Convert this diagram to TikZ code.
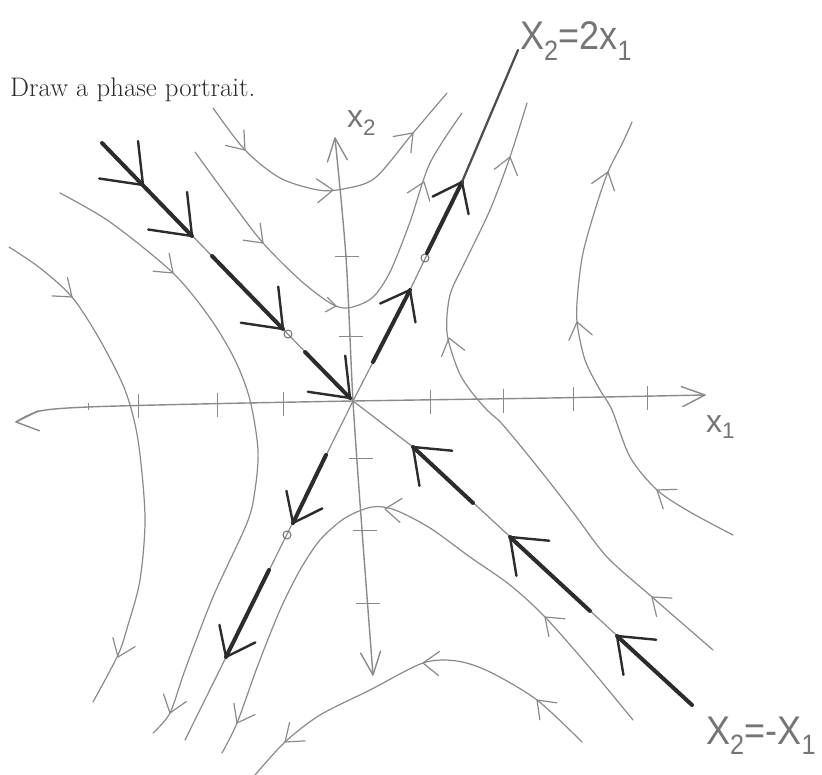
\documentclass[tikz,border=0pt]{standalone}
\usepackage{fontspec}
\usetikzlibrary{calc}
\newfontfamily\handfont{Liberation Sans}
\definecolor{pencil}{HTML}{8A8A8A}
\definecolor{graphite}{HTML}{2C2C2C}
\definecolor{inktext}{HTML}{2A2A2A}

\begin{document}
\begin{tikzpicture}[
    x=1pt, y=-1pt,
    traj/.style={draw=pencil, line width=1.2pt, line cap=round, line join=round},
    axisline/.style={draw=pencil, line width=1.4pt, line cap=round, line join=round},
    tickmark/.style={draw=pencil, line width=1pt},
    eigen/.style={draw=pencil, line width=1.2pt, line cap=round},
    boldseg/.style={draw=graphite, line width=4pt, line cap=round},
    dot/.style={draw=pencil!80!black, line width=1pt},
    hand/.style={text=pencil!85!black, inner sep=0pt, anchor=base west,
                 font=\handfont\fontsize{40}{40}\selectfont},
    vtip/.pic={\draw[traj] (-16,-12) -- (0,0) -- (-16,12);},
    boldtip/.pic={\draw[draw=graphite, line width=2.4pt, line cap=round, line join=round]
                  (-26,-20) -- (0,0) -- (-26,20);},
    axistip/.pic={\draw[axisline] (-23,-10) -- (0,0) -- (-23,10);}
  ]
    \useasboundingbox (0,0) rectangle (822,775);

    % question
    \node[text=inktext, inner sep=0pt, anchor=base west,
          font=\fontsize{26.8}{32}\selectfont] (title) at (10,97) {Draw a phase portrait.};

    % axes
    \coordinate (O) at (353,401);
    \coordinate (xL) at (16,422);
    \coordinate (xR) at (705,395);
    \coordinate (yT) at (335,138);
    \coordinate (yB) at (373,675);
    \draw[axisline] plot[smooth] coordinates {(xL) (40,411) (88,407) (200,404) (O) (550,398) (xR)};
    \draw[axisline] plot[smooth] coordinates {(yT) (346,257) (O) (362,530) (yB)};
    \pic[rotate=183] at (xL) {axistip};
    \pic[rotate=4] at (xR) {axistip};
    \pic[rotate=96] at (yT) {axistip};
    \pic[rotate=-84] at (yB) {axistip};
    \foreach \tx/\ty in {138/404, 217/403, 283/402, 430/400, 503/399, 573/397, 647/396}
      \draw[tickmark] (\tx,\ty-10) -- (\tx,\ty+14);
    \draw[tickmark] (88,403) -- (88,410);
    \foreach \tx/\ty in {346/257, 350/337, 360/458, 364/530, 367/603}
      \draw[tickmark] (\tx-11,\ty) -- (\tx+13,\ty);

    % trajectories
    \draw[traj] plot[smooth] coordinates {(213,108) (245,150) (280,178) (318,190) (343,189) (375,178) (413,133) (447,93)};
    \pic[rotate=-50] at (245,150) {vtip};
    \pic[rotate=3] at (333,190) {vtip};
    \pic[rotate=47] at (413,133) {vtip};

    \draw[traj] plot[smooth] coordinates {(195,152) (230,200) (263,243) (300,280) (330,303) (348,308) (372,298) (390,272) (410,222) (430,163) (462,113)};
    \pic[rotate=-45] at (263,243) {vtip};
    \pic[rotate=-8, scale=0.6] at (336,306) {vtip};
    \pic[rotate=70] at (424,182) {vtip};

    \draw[traj] plot[smooth] coordinates {(527,103) (510,157) (490,210) (465,262) (450,295) (447,333) (458,370) (470,390) (487,410) (503,425) (540,470) (575,515) (607,557) (652,597) (713,650)};
    \pic[rotate=75] at (510,157) {vtip};
    \pic[rotate=105] at (449,338) {vtip};
    \pic[rotate=140] at (652,597) {vtip};

    \draw[traj] plot[smooth] coordinates {(632,122) (623,142) (608,172) (595,210) (583,253) (578,290) (577,322) (585,360) (600,390) (612,410) (630,457) (657,490) (690,512) (733,535)};
    \pic[rotate=72] at (608,172) {vtip};
    \pic[rotate=103] at (577,322) {vtip};
    \pic[rotate=145] at (657,490) {vtip};

    \draw[traj] plot[smooth] coordinates {(9,247) (40,268) (72,297) (100,340) (125,390) (138,440) (145,517) (140,580) (128,625) (118,655) (93,702)};
    \pic[rotate=-40] at (72,297) {vtip};
    \pic[rotate=-112] at (118,657) {vtip};

    \draw[traj] plot[smooth] coordinates {(60,193) (110,222) (173,273) (210,318) (235,360) (250,400) (258,450) (255,490) (247,523) (213,597) (185,670) (170,713) (153,733)};
    \pic[rotate=-42] at (173,273) {vtip};
    \pic[rotate=-108] at (170,713) {vtip};

    \draw[traj] plot[smooth] coordinates {(222,753) (237,723) (258,665) (280,610) (300,570) (320,540) (345,518) (372,507) (395,510) (430,528) (470,557) (510,585) (545,617) (590,668) (633,720)};
    \pic[rotate=175] at (385,509) {vtip};
    \pic[rotate=138] at (545,617) {vtip};
    \pic[rotate=-118] at (237,723) {vtip};

    \draw[traj] plot[smooth] coordinates {(255,775) (285,742) (320,715) (370,690) (423,663) (457,661) (490,672) (537,700) (582,742)};
    \pic[rotate=-140] at (285,742) {vtip};
    \pic[rotate=178] at (423,663) {vtip};
    \pic[rotate=135] at (537,700) {vtip};

    % eigenlines
    \coordinate (Utop) at (518,50);
    \coordinate (Ubot) at (185,740);
    \coordinate (u1) at (410,290);
    \coordinate (u2) at (462,182);
    \coordinate (Stop) at (102,143);
    \coordinate (Sbot) at (692,705);
    \coordinate (s1) at (413,447);
    \draw[eigen] (Ubot) -- (O) -- (u1) -- (u2) -- (Utop);
    \draw[eigen] (Stop) -- (O) -- (s1) -- (Sbot);

    % unstable direction, away from the origin
    \draw[boldseg] (373,362) -- (u1);
    \pic[rotate=62] at (u1) {boldtip};
    \draw[dot] (425,258) circle (4);
    \draw[boldseg] (427,253) -- (u2);
    \pic[rotate=64] at (u2) {boldtip};
    \draw[draw=graphite!85, line width=2.2pt, line cap=round] (u2) -- (Utop);
    \draw[boldseg] (326,455) -- (293,523);
    \pic[rotate=-116] at (293,523) {boldtip};
    \draw[dot] (287,535) circle (4);
    \draw[boldseg] (269,570) -- (226,657);
    \pic[rotate=-116] at (226,657) {boldtip};

    % stable direction, into the origin
    \draw[boldseg] (Stop) -- (192,236);
    \pic[rotate=-46, scale=1.35] at (143,185) {boldtip};
    \pic[rotate=-46, scale=1.35] at (192,236) {boldtip};
    \draw[boldseg] (212,256) -- (283,329);
    \pic[rotate=-46, scale=1.3] at (283,329) {boldtip};
    \draw[dot] (288,334) circle (4);
    \draw[boldseg] (305,352) -- (350,398);
    \pic[rotate=-46, scale=1.3] at (350,398) {boldtip};
    \draw[boldseg] (s1) -- (473,503);
    \pic[rotate=137, scale=1.2] at (s1) {boldtip};
    \draw[boldseg] (510,537) -- (590,611);
    \pic[rotate=137, scale=1.2] at (510,537) {boldtip};
    \draw[boldseg] (617,636) -- (Sbot);
    \pic[rotate=137, scale=1.2] at (617,636) {boldtip};

    % labels
    \node[hand, xscale=0.9] (lblU) at (520,50) {X\textsubscript{2}=2x\textsubscript{1}};
    \node[hand, xscale=0.9] (lblS) at (706,744) {X\textsubscript{2}=-X\textsubscript{1}};
    \node[hand, font=\handfont\fontsize{32}{32}\selectfont] (lblx1) at (706,432) {x\textsubscript{1}};
    \node[hand, font=\handfont\fontsize{32}{32}\selectfont] (lblx2) at (347,128) {x\textsubscript{2}};
  \end{tikzpicture}
\end{document}
